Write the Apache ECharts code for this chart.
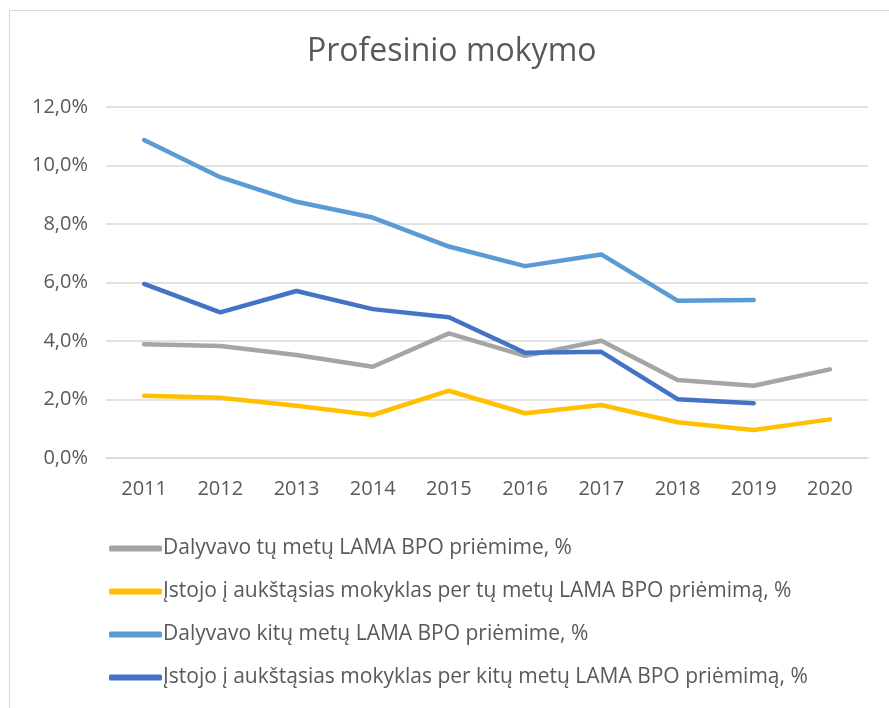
<!DOCTYPE html>
<html>
<head>
<meta charset="utf-8">
<script src="https://cdn.jsdelivr.net/npm/echarts@6/dist/echarts.min.js"></script>
<style>
html,body{margin:0;padding:0;background:#fff;}
#chart{width:889px;height:708px;}
</style>
</head>
<body>
<div id="chart"></div>
<script>
const years = ['2011','2012','2013','2014','2015','2016','2017','2018','2019','2020'];
const seriesNames = [
  'Dalyvavo tų metų LAMA BPO priėmime, %',
  'Įstojo į aukštąsias mokyklas per tų metų LAMA BPO priėmimą, %',
  'Dalyvavo kitų metų LAMA BPO priėmime, %',
  'Įstojo į aukštąsias mokyklas per kitų metų LAMA BPO priėmimą, %'
];
const dalyvavoTu = [3.89, 3.83, 3.52, 3.12, 4.26, 3.49, 4.01, 2.67, 2.47, 3.03];
const istojoTu = [2.13, 2.06, 1.79, 1.47, 2.30, 1.53, 1.81, 1.22, 0.96, 1.32];
const dalyvavoKitu = [10.87, 9.60, 8.76, 8.22, 7.23, 6.56, 6.96, 5.38, 5.40, null];
const istojoKitu = [5.95, 4.98, 5.71, 5.09, 4.81, 3.60, 3.63, 2.01, 1.87, null];
const colors = ['#A5A5A5', '#FFC000', '#5B9BD5', '#4472C4'];

const font = '"Open Sans", sans-serif';
const chart = echarts.init(document.getElementById('chart'), null, {renderer: 'canvas'});
const dataArr = [dalyvavoTu, istojoTu, dalyvavoKitu, istojoKitu];
chart.setOption({
  animation: false,
  textStyle: {fontFamily: font},
  graphic: [{
    type: 'rect', left: 7, top: 8, silent: true,
    shape: {width: 900, height: 720},
    style: {fill: 'none', stroke: '#d9d9d9', lineWidth: 1}
  }],
  title: {
    text: 'Profesinio mokymo', left: 302, top: 31,
    textStyle: {fontFamily: font, fontSize: 32, fontWeight: 'normal', color: '#595959'}
  },
  grid: {left: 106, right: 21, top: 107, bottom: 250, containLabel: false},
  xAxis: {
    type: 'category', data: years, boundaryGap: true,
    axisLine: {show: true, lineStyle: {color: '#d9d9d9', width: 1.5}},
    axisTick: {show: false},
    axisLabel: {color: '#595959', fontSize: 20, fontFamily: font, margin: 21}
  },
  yAxis: {
    type: 'value', min: 0, max: 12, interval: 2,
    axisLine: {show: false}, axisTick: {show: false},
    splitLine: {lineStyle: {color: '#d9d9d9', width: 1.5}},
    axisLabel: {color: '#595959', fontSize: 20, fontFamily: font, margin: 18,
      formatter: v => v.toFixed(1).replace('.', ',') + '%'}
  },
  legend: {
    orient: 'vertical', left: 104, top: 533, itemGap: 22,
    itemWidth: 53, itemHeight: 6, icon: 'roundRect',
    textStyle: {color: '#595959', fontSize: 21, fontFamily: font, padding: [0, 0, 0, -4]},
    data: seriesNames
  },
  series: seriesNames.map((n, i) => ({
    name: n, type: 'line', data: dataArr[i],
    showSymbol: false, symbol: 'none', smooth: false,
    connectNulls: false,
    itemStyle: {color: colors[i]},
    lineStyle: {color: colors[i], width: 4.5, cap: 'round', join: 'round'}
  }))
});
</script>
</body>
</html>
